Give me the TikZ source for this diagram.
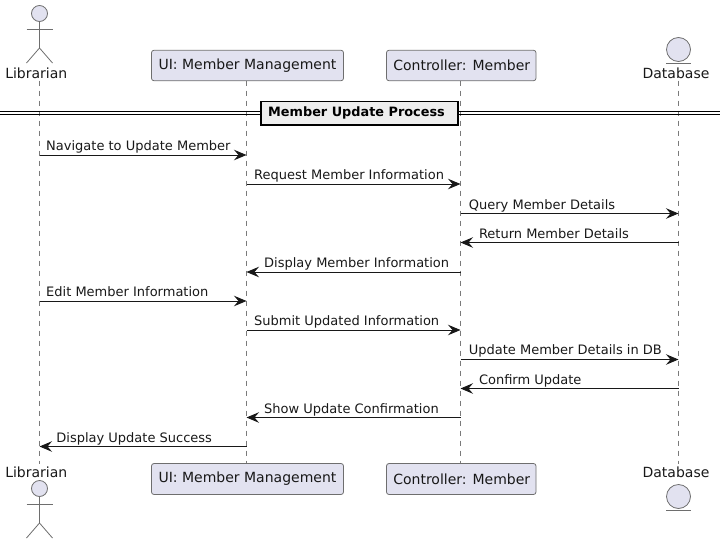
\documentclass[tikz,border=0pt]{standalone}
\usepackage{fontspec}
\setmainfont{DejaVu Sans}
\usetikzlibrary{arrows.meta}
\definecolor{ink}{HTML}{181818}
\definecolor{part}{HTML}{E2E2F0}
\definecolor{edge}{HTML}{6E6E6E}
\definecolor{lifeln}{HTML}{7A7A7A}
\definecolor{divfill}{HTML}{EEEEEE}
\tikzset{
  partbox/.style={draw=edge,fill=part,line width=0.8pt,rounded corners=2.5pt,minimum height=30.5pt,inner sep=0pt,text=ink,font=\fontsize{14}{16}\selectfont},
  partlabel/.style={inner sep=0pt,text=ink,font=\fontsize{14}{16}\selectfont},
  figure/.style={draw=edge,line width=0.8pt,fill=part},
  limb/.style={draw=edge,line width=0.8pt},
  lifeline/.style={draw=lifeln,line width=0.8pt,dash pattern=on 5pt off 5pt},
  msgline/.style={draw=ink,line width=0.9pt,-{Stealth[length=12.5pt,width=10.5pt,inset=4.5pt]}},
  msgtext/.style={inner sep=0pt,anchor=base west,text=ink,font=\fontsize{13}{15}\selectfont},
  divline/.style={draw=black,line width=1.2pt},
  divbox/.style={draw=black,fill=divfill,line width=1.5pt,inner sep=0pt,minimum width=197pt,minimum height=23.5pt,font=\bfseries\fontsize{12.85}{15}\selectfont,text=black},
}
\begin{document}
\begin{tikzpicture}[x=1pt,y=-1pt]
\useasboundingbox (0,0) rectangle (726,544);
% lifeline x positions
\coordinate (L) at (39.5,0);
\coordinate (U) at (246.5,0);
\coordinate (C) at (460.5,0);
\coordinate (D) at (678.5,0);
\coordinate (Lt) at (39.5,80.5);
\coordinate (Lb) at (39.5,463.5);
\coordinate (Ut) at (246.5,80.5);
\coordinate (Ub) at (246.5,463.5);
\coordinate (Ct) at (460.5,80.5);
\coordinate (Cb) at (460.5,463.5);
\coordinate (Dt) at (678.5,80.5);
\coordinate (Db) at (678.5,463.5);
\draw[lifeline] (Lt) -- (Lb);
\draw[lifeline] (Ut) -- (Ub);
\draw[lifeline] (Ct) -- (Cb);
\draw[lifeline] (Dt) -- (Db);
% participants
\node[partbox,minimum width=192pt] (uitop) at (247.5,65.5) {UI: Member Management};
\node[partbox,minimum width=149.5pt] (ctop) at (461.25,65.5) {\hspace*{1pt}Controller: Member};
\node[partbox,minimum width=192pt,minimum height=31pt] (uibot) at (247.5,479) {UI: Member Management};
\node[partbox,minimum width=149.5pt,minimum height=31pt] (cbot) at (461.25,479) {\hspace*{1pt}Controller: Member};
% actor top
\node[partlabel,anchor=base] (libtop) at (36.3,78.5) {Librarian};
\node[figure,circle,minimum size=16pt,inner sep=0pt] (headt) at (39.5,13.5) {};
\coordinate (hipt) at (39.5,48);
\coordinate (armlt) at (26.5,29);
\coordinate (armrt) at (52.5,29);
\coordinate (footlt) at (26.5,63);
\coordinate (footrt) at (52.5,63);
\draw[limb] (headt.south) -- (hipt);
\draw[limb] (armlt) -- (armrt);
\draw[limb] (footlt) -- (hipt) -- (footrt);
% actor bottom
\node[partlabel,anchor=base] (libbot) at (36.3,477.5) {Librarian};
\node[figure,circle,minimum size=16pt,inner sep=0pt] (headb) at (39.5,488.5) {};
\coordinate (hipb) at (39.5,523);
\coordinate (armlb) at (26.5,504);
\coordinate (armrb) at (52.5,504);
\coordinate (footlb) at (26.5,538);
\coordinate (footrb) at (52.5,538);
\draw[limb] (headb.south) -- (hipb);
\draw[limb] (armlb) -- (armrb);
\draw[limb] (footlb) -- (hipb) -- (footrb);
% entity top
\node[partlabel,anchor=base] (dbtop) at (676,78.5) {Database};
\node[figure,circle,minimum size=24pt,inner sep=0pt] (dbct) at (678.5,49.5) {};
\coordinate (dblt) at (666,63);
\coordinate (dbrt) at (691,63);
\draw[limb] (dblt) -- (dbrt);
% entity bottom
\node[partlabel,anchor=base] (dbbot) at (676,477.5) {Database};
\node[figure,circle,minimum size=24pt,inner sep=0pt] (dbcb) at (678.5,496.5) {};
\coordinate (dblb) at (666,510);
\coordinate (dbrb) at (691,510);
\draw[limb] (dblb) -- (dbrb);
% divider
\coordinate (dl1) at (0,111.7);
\coordinate (dr1) at (720,111.7);
\coordinate (dl2) at (0,114.5);
\coordinate (dr2) at (720,114.5);
\draw[divline] (dl1) -- (dr1);
\draw[divline] (dl2) -- (dr2);
\node[divbox] (div) at (359.5,113) {Member Update Process\hspace*{6pt}};
% message heights
\coordinate (m1) at (0,155);
\coordinate (m2) at (0,184);
\coordinate (m3) at (0,213.5);
\coordinate (m4) at (0,242.5);
\coordinate (m5) at (0,272);
\coordinate (m6) at (0,301);
\coordinate (m7) at (0,330);
\coordinate (m8) at (0,359.5);
\coordinate (m9) at (0,388.5);
\coordinate (m10) at (0,417.5);
\coordinate (m11) at (0,446.5);
% messages
\draw[msgline] (L |- m1) -- (U |- m1);
\draw[msgline] (U |- m2) -- (C |- m2);
\draw[msgline] (C |- m3) -- (D |- m3);
\draw[msgline] (D |- m4) -- (C |- m4);
\draw[msgline] (C |- m5) -- (U |- m5);
\draw[msgline] (L |- m6) -- (U |- m6);
\draw[msgline] (U |- m7) -- (C |- m7);
\draw[msgline] (C |- m8) -- (D |- m8);
\draw[msgline] (D |- m9) -- (C |- m9);
\draw[msgline] (C |- m10) -- (U |- m10);
\draw[msgline] (U |- m11) -- (L |- m11);
\node[msgtext] (t1) at (46,150) {Navigate to Update Member};
\node[msgtext] (t2) at (254,179.3) {Request Member Information};
\node[msgtext] (t3) at (468.7,209) {Query Member Details};
\node[msgtext] (t4) at (478.8,238) {Return Member Details};
\node[msgtext] (t5) at (264,267.3) {Display Member Information};
\node[msgtext] (t6) at (46,296.3) {Edit Member Information};
\node[msgtext] (t7) at (254,325.3) {Submit Updated Information};
\node[msgtext] (t8) at (468.7,354.5) {Update Member Details in DB};
\node[msgtext] (t9) at (478.8,384) {Confirm Update};
\node[msgtext] (t10) at (264,413) {Show Update Confirmation};
\node[msgtext] (t11) at (56.2,442) {Display Update Success};
\end{tikzpicture}
\end{document}
